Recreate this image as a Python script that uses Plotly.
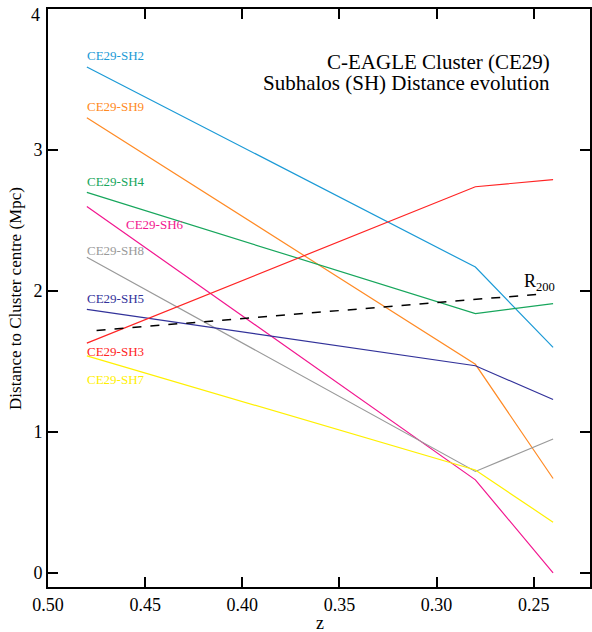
import plotly.graph_objects as go

z = [0.48, 0.28, 0.24]
names = ["CE29-SH2", "CE29-SH9", "CE29-SH4", "CE29-SH6", "CE29-SH8", "CE29-SH5", "CE29-SH3", "CE29-SH7"]
sh2 = [3.59, 2.17, 1.60]
sh9 = [3.23, 1.48, 0.67]
sh4 = [2.70, 1.84, 1.91]
sh6 = [2.60, 0.66, 0.00]
sh8 = [2.24, 0.72, 0.95]
sh5 = [1.87, 1.47, 1.23]
sh3 = [1.63, 2.74, 2.79]
sh7 = [1.54, 0.73, 0.36]
series = [sh2, sh9, sh4, sh6, sh8, sh5, sh3, sh7]
colors = ["#1b9ad6", "#ff8a24", "#17a65c", "#f2168f", "#9a9a9a", "#32329a", "#ff2424", "#fff000"]
# label anchor positions (z, distance)
label_z = [0.48, 0.48, 0.48, 0.46, 0.48, 0.48, 0.48, 0.48]
label_y = [3.67, 3.31, 2.78, 2.47, 2.29, 1.95, 1.57, 1.37]

r200_z = [0.475, 0.245]
r200 = [1.72, 1.98]

y_top = 4  # top y tick (its label sits at the frame edge)

font = "Liberation Serif, Times New Roman, serif"

fig = go.Figure()
for n, s, c in zip(names, series, colors):
    fig.add_trace(go.Scatter(x=z, y=s, mode="lines", line=dict(color=c, width=1.2), name=n, showlegend=False))
fig.add_trace(go.Scatter(x=r200_z, y=r200, mode="lines", line=dict(color="black", width=1.5, dash="dash"), showlegend=False))

for n, c, lz, ly in zip(names, colors, label_z, label_y):
    fig.add_annotation(x=lz, y=ly, text=n, showarrow=False, xanchor="left", yanchor="middle", xshift=-2,
                       font=dict(family=font, size=13, color=c))

fig.add_annotation(x=r200_z[1], y=r200[1] + 0.08, text="R<sub>200</sub>", showarrow=False,
                   xanchor="center", yanchor="middle", xshift=-4, font=dict(family=font, size=18, color="black"))

fig.add_annotation(xref="paper", yref="paper", x=0.93, y=0.909, text="C-EAGLE Cluster (CE29)",
                   showarrow=False, xanchor="right", yanchor="middle",
                   font=dict(family=font, size=21, color="black"))
fig.add_annotation(xref="paper", yref="paper", x=0.93, y=0.872, text="Subhalos (SH) Distance evolution",
                   showarrow=False, xanchor="right", yanchor="middle",
                   font=dict(family=font, size=21, color="black"))
fig.add_annotation(xref="paper", yref="paper", x=0.502, y=-0.063, text="z",
                   showarrow=False, xanchor="center", yanchor="middle",
                   font=dict(family=font, size=18, color="black"))
fig.add_annotation(xref="paper", yref="paper", x=-0.061, y=0.5, text="Distance to Cluster centre (Mpc)",
                   showarrow=False, xanchor="center", yanchor="middle", textangle=-90,
                   font=dict(family=font, size=17, color="black"))
# top y tick label (kept inside the page, as in the reference)
fig.add_annotation(xref="paper", yref="y", x=-0.011, y=y_top, text=str(y_top), showarrow=False,
                   xanchor="right", yanchor="middle", yshift=-6,
                   font=dict(family=font, size=18, color="black"))

axis_common = dict(showline=True, linecolor="black", linewidth=2, mirror="allticks",
                   ticks="inside", ticklen=10, tickwidth=1.5, tickcolor="black",
                   showgrid=False, zeroline=False, automargin=False,
                   tickfont=dict(family=font, size=18, color="black"))

fig.update_xaxes(range=[0.50, 0.221], dtick=0.05, tick0=0.5, tickformat=".2f", **axis_common)
fig.update_yaxes(range=[-0.1, 4.001], dtick=1, tick0=0, **axis_common)

fig.update_layout(template="simple_white", width=592, height=632, margin=dict(l=48, r=2, t=9, b=45),
                  plot_bgcolor="white", paper_bgcolor="white")

fig.write_html("out.html", config={"displayModeBar": False},
               post_script="document.body.style.margin='0px';")
